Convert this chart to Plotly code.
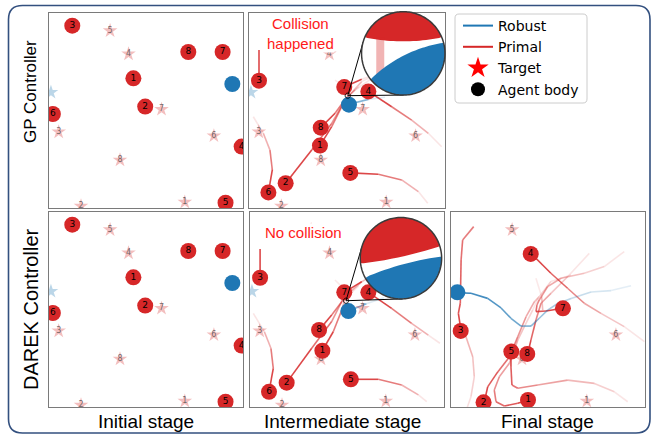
import numpy as np
import plotly.graph_objects as go

W, H = 656, 434
RED = (214, 39, 40)
BLUE = (31, 119, 180)

# ---------------- data (panel coordinates 0..1) ----------------
agent_ids = ["1", "2", "3", "4", "5", "6", "7", "8"]

target_x = [0.70, 0.165, 0.05, 0.41, 0.315, 0.85, 0.58, 0.366]
target_y = [0.03, 0.01, 0.39, 0.79, 0.909, 0.37, 0.506, 0.246]
robust_target_x = [0.01]
robust_target_y = [0.593]

init_agent_x = [0.435, 0.496, 0.12, 0.993, 0.91, 0.02, 0.895, 0.718]
init_agent_y = [0.665, 0.52, 0.935, 0.315, 0.027, 0.482, 0.80, 0.80]
init_robust_x = [0.945]
init_robust_y = [0.636]

gp_mid_agent_x = [0.362, 0.187, 0.051, 0.609, 0.517, 0.099, 0.486, 0.366]
gp_mid_agent_y = [0.32, 0.127, 0.653, 0.598, 0.18, 0.08, 0.62, 0.412]
gp_mid_robust_x = [0.51]
gp_mid_robust_y = [0.53]

dk_mid_agent_x = [0.373, 0.189, 0.052, 0.61, 0.52, 0.098, 0.486, 0.356]
dk_mid_agent_y = [0.289, 0.125, 0.663, 0.588, 0.142, 0.078, 0.588, 0.395]
dk_mid_robust_x = [0.507]
dk_mid_robust_y = [0.492]

dk_final_agent_x = [0.397, 0.168, 0.05, 0.411, 0.311, None, 0.577, 0.393]
dk_final_agent_y = [0.036, 0.024, 0.39, 0.785, 0.284, None, 0.506, 0.272]
dk_final_robust_x = [0.033]
dk_final_robust_y = [0.588]

# trails: newest point first (at the agent), oldest last
gp_mid_trails = {
    "r3": ([0.051, 0.051], [0.653, 0.81]),
    "r6": ([0.099, 0.119, 0.107, 0.073, 0.022], [0.08, 0.195, 0.297, 0.383, 0.468]),
    "r2": ([0.187, 0.32, 0.422, 0.49, 0.575, 0.64], [0.127, 0.297, 0.434, 0.554, 0.648, 0.68]),
    "r1": ([0.362, 0.422, 0.473, 0.498, 0.56], [0.32, 0.417, 0.52, 0.571, 0.62]),
    "r8": ([0.366, 0.439, 0.49, 0.541, 0.62], [0.412, 0.486, 0.557, 0.605, 0.66]),
    "r7": ([0.486, 0.575, 0.66], [0.62, 0.66, 0.69]),
    "r7b": ([0.486, 0.473, 0.439], [0.62, 0.631, 0.656]),
    "r4": ([0.609, 0.728, 0.83, 0.915, 0.983], [0.598, 0.519, 0.451, 0.383, 0.314]),
    "r5": ([0.517, 0.66, 0.779, 0.864, 0.912], [0.18, 0.173, 0.144, 0.084, 0.024]),
    "b": ([0.51, 0.609, 0.694], [0.532, 0.557, 0.568]),
}
dk_mid_trails = {
    "r3": ([0.052, 0.052], [0.663, 0.81]),
    "r6": ([0.098, 0.12, 0.108, 0.074, 0.017], [0.078, 0.198, 0.301, 0.386, 0.48]),
    "r2": ([0.189, 0.318, 0.421, 0.481, 0.576, 0.64], [0.125, 0.301, 0.438, 0.557, 0.643, 0.68]),
    "r1": ([0.373, 0.429, 0.473, 0.49, 0.56], [0.289, 0.386, 0.497, 0.557, 0.62]),
    "r8": ([0.356, 0.421, 0.473, 0.524, 0.6], [0.395, 0.472, 0.54, 0.6, 0.66]),
    "r7": ([0.486, 0.576, 0.66], [0.588, 0.643, 0.68]),
    "r7b": ([0.486, 0.473, 0.438], [0.588, 0.617, 0.651]),
    "r4": ([0.61, 0.73, 0.833, 0.919, 0.979], [0.588, 0.506, 0.429, 0.369, 0.327]),
    "r5": ([0.52, 0.661, 0.782, 0.868, 0.911], [0.142, 0.142, 0.113, 0.062, 0.027]),
    "b": ([0.507, 0.6, 0.69], [0.492, 0.53, 0.56]),
}
dk_final_trails = {
    "r6b": ([0.077, 0.112, 0.12, 0.103, 0.082], [0.36, 0.258, 0.155, 0.053, -0.007]),
    "r3": ([0.052, 0.038, 0.048, 0.052, 0.06, 0.117], [0.39, 0.48, 0.532, 0.754, 0.856, 0.925]),
    "r7": ([0.576, 0.49, 0.438, 0.443, 0.455, 0.498, 0.567, 0.687, 0.79, 0.893],
           [0.506, 0.492, 0.489, 0.523, 0.549, 0.617, 0.66, 0.686, 0.72, 0.797]),
    "r8": ([0.395, 0.412, 0.438, 0.464, 0.515, 0.601, 0.713], [0.272, 0.343, 0.446, 0.532, 0.583, 0.668, 0.788]),
    "r5": ([0.309, 0.309, 0.314, 0.344, 0.447, 0.601, 0.739, 0.842, 0.911],
           [0.28, 0.207, 0.113, 0.096, 0.113, 0.138, 0.121, 0.078, 0.027]),
    "r1": ([0.399, 0.344, 0.275, 0.232, 0.223, 0.249, 0.301, 0.344, 0.378, 0.421, 0.45],
           [0.036, 0.019, 0.005, 0.027, 0.087, 0.155, 0.224, 0.343, 0.412, 0.497, 0.56]),
    "r2": ([0.172, 0.189, 0.241, 0.301, 0.344, 0.387, 0.43, 0.455, 0.515, 0.619],
           [0.027, 0.103, 0.18, 0.257, 0.36, 0.463, 0.54, 0.566, 0.643, 0.677]),
    "r4": ([0.412, 0.515, 0.601, 0.687, 0.773, 0.893, 0.997], [0.788, 0.686, 0.609, 0.532, 0.48, 0.412, 0.335]),
    "r6c": ([0.473, 0.467, 0.438], [0.497, 0.566, 0.66]),
    "b": ([0.031, 0.103, 0.189, 0.258, 0.309, 0.361, 0.412, 0.455, 0.498, 0.55, 0.619, 0.722, 0.825, 0.928],
          [0.586, 0.583, 0.557, 0.508, 0.455, 0.415, 0.415, 0.455, 0.497, 0.531, 0.556, 0.59, 0.597, 0.622]),
}

row_labels = ["GP Controller", "DAREK Controller"]
col_labels = ["Initial stage", "Intermediate stage", "Final stage"]
legend_names = ["Robust", "Primal", "Target", "Agent body"]

# ---------------- styling / layout ----------------
# axis suffix -> pixel box (left, right, top, bottom)
PANELS = {
    "": (49, 243, 13, 208),
    "2": (249, 445, 13, 208),
    "3": (49, 243, 212, 407),
    "4": (250, 444, 212, 407),
    "5": (451, 645, 212, 407),
}
trail_alpha = {"default": (0.85, 0.12), "r3": (0.85, 0.6), "r7b": (0.35, 0.1),
               "r6b": (0.35, 0.15), "r6c": (0.3, 0.1), "b": (0.9, 0.12)}
mid_blue_alpha = (0.55, 0.15)


def rgba(c, a):
    return f"rgba({c[0]},{c[1]},{c[2]},{a:.3f})"


fig = go.Figure()


def add_trails(k, trails, blue_alpha=None):
    for name, (xs, ys) in trails.items():
        col = BLUE if name == "b" else RED
        a0, a1 = trail_alpha.get(name, trail_alpha["default"])
        if name == "b" and blue_alpha:
            a0, a1 = blue_alpha
        n = len(xs)
        for i in range(n - 1):
            t = i / (n - 2) if n > 2 else 0.0
            a = a0 + (a1 - a0) * t
            fig.add_trace(go.Scatter(x=xs[i:i + 2], y=ys[i:i + 2], mode="lines",
                                     line=dict(color=rgba(col, a), width=1.6),
                                     xaxis="x" + k, yaxis="y" + k,
                                     hoverinfo="skip", showlegend=False))


def add_targets(k):
    fig.add_trace(go.Scatter(x=robust_target_x, y=robust_target_y, mode="markers",
                             marker=dict(symbol="star", size=11, color=rgba(BLUE, 0.3), line=dict(width=0)),
                             xaxis="x" + k, yaxis="y" + k, hoverinfo="skip", showlegend=False))
    fig.add_trace(go.Scatter(x=target_x, y=target_y, mode="markers+text", text=agent_ids,
                             textposition="middle center",
                             textfont=dict(family="DejaVu Sans", size=8, color="rgba(70,70,70,0.75)"),
                             marker=dict(symbol="star", size=11, color=rgba(RED, 0.3), line=dict(width=0)),
                             xaxis="x" + k, yaxis="y" + k, hoverinfo="skip", showlegend=False))


def add_agents(k, ax_, ay_, rx, ry):
    fig.add_trace(go.Scatter(x=ax_, y=ay_, mode="markers+text", text=agent_ids,
                             textposition="middle center",
                             textfont=dict(family="DejaVu Sans", size=9, color="black"),
                             marker=dict(size=16, color=rgba(RED, 1), line=dict(width=0)),
                             xaxis="x" + k, yaxis="y" + k, hoverinfo="skip", showlegend=False))
    fig.add_trace(go.Scatter(x=rx, y=ry, mode="markers",
                             marker=dict(size=16, color=rgba(BLUE, 1), line=dict(width=0)),
                             xaxis="x" + k, yaxis="y" + k, hoverinfo="skip", showlegend=False))


# initial panels
for k in ["", "3"]:
    add_targets(k)
    add_agents(k, init_agent_x, init_agent_y, init_robust_x, init_robust_y)
# GP intermediate
add_trails("2", gp_mid_trails, mid_blue_alpha)
add_targets("2")
add_agents("2", gp_mid_agent_x, gp_mid_agent_y, gp_mid_robust_x, gp_mid_robust_y)
# DAREK intermediate
add_trails("4", dk_mid_trails, mid_blue_alpha)
add_targets("4")
add_agents("4", dk_mid_agent_x, dk_mid_agent_y, dk_mid_robust_x, dk_mid_robust_y)
# DAREK final
add_trails("5", dk_final_trails)
add_targets("5")
add_agents("5", dk_final_agent_x, dk_final_agent_y, dk_final_robust_x, dk_final_robust_y)

# legend-only traces
fig.add_trace(go.Scatter(x=[None], y=[None], mode="lines", name=legend_names[0],
                         line=dict(color=rgba(BLUE, 1), width=2)))
fig.add_trace(go.Scatter(x=[None], y=[None], mode="lines", name=legend_names[1],
                         line=dict(color=rgba(RED, 1), width=2)))
fig.add_trace(go.Scatter(x=[None], y=[None], mode="markers", name=legend_names[2],
                         marker=dict(symbol="star", size=16, color="#ff0000")))
fig.add_trace(go.Scatter(x=[None], y=[None], mode="markers", name=legend_names[3],
                         marker=dict(symbol="circle", size=14, color="black")))

# axes
layout_axes = {}
for k, (l, r, t, b) in PANELS.items():
    common = dict(range=[0, 1], showticklabels=False, ticks="", showgrid=False, zeroline=False,
                  showline=True, linecolor="#7a7a7a", linewidth=1, mirror=True, fixedrange=True)
    layout_axes["xaxis" + k] = dict(domain=[l / W, r / W], anchor="y" + k, **common)
    layout_axes["yaxis" + k] = dict(domain=[1 - b / H, 1 - t / H], anchor="x" + k, **common)


# ---------------- decorations (pixel geometry -> paper) ----------------
def P(px, py):
    return px / W, 1 - py / H


def panel_px(k, x, y):
    l, r, t, b = PANELS[k]
    return l + x * (r - l), b - y * (b - t)


def path(pts):
    s = "M " + " L ".join(f"{P(x, y)[0]:.5f},{P(x, y)[1]:.5f}" for x, y in pts) + " Z"
    return s


def rounded_rect(x0, y0, x1, y1, r):
    def p(x, y):
        a, b = P(x, y)
        return f"{a:.5f},{b:.5f}"
    return (f"M {p(x0 + r, y0)} L {p(x1 - r, y0)} Q {p(x1, y0)} {p(x1, y0 + r)} "
            f"L {p(x1, y1 - r)} Q {p(x1, y1)} {p(x1 - r, y1)} L {p(x0 + r, y1)} "
            f"Q {p(x0, y1)} {p(x0, y1 - r)} L {p(x0, y0 + r)} Q {p(x0, y0)} {p(x0 + r, y0)} Z")


def circle_pts(cx, cy, r, n=180):
    a = np.linspace(0, 2 * np.pi, n, endpoint=False)
    return list(zip(cx + r * np.cos(a), cy + r * np.sin(a)))


def disc_intersection(c1, r1, c2, r2, n=360):
    pts = []
    for (cx, cy, r, ox, oy, orr) in [(c1[0], c1[1], r1, c2[0], c2[1], r2), (c2[0], c2[1], r2, c1[0], c1[1], r1)]:
        for x, y in circle_pts(cx, cy, r, n):
            if (x - ox) ** 2 + (y - oy) ** 2 <= orr ** 2:
                pts.append((x, y))
    if not pts:
        return []
    mx = np.mean([p[0] for p in pts]); my = np.mean([p[1] for p in pts])
    pts.sort(key=lambda p: np.arctan2(p[1] - my, p[0] - mx))
    return pts


shapes = []
insets = [
    # panel, lens(panel coords), inset centre(panel coords), R px, red disc(rel), blue disc(rel), stripe
    ("2", (0.504, 0.576), (0.787, 0.793), 41.7, ((0, -200), 188), ((60, 120), 132), True),
    ("4", (0.495, 0.545), (0.778, 0.763), 40.7, ((-86, -392), 400), ((81, 295.5), 300), False),
]
for k, lens, cen, R, red_d, blue_d, stripe in insets:
    lx, ly = panel_px(k, *lens)
    cx, cy = panel_px(k, *cen)
    # tangent lines
    dx, dy = lx - cx, ly - cy
    d = np.hypot(dx, dy)
    base = np.arctan2(dy, dx)
    al = np.arccos(R / d)
    for s in (1, -1):
        tx, ty = cx + R * np.cos(base + s * al), cy + R * np.sin(base + s * al)
        a0 = P(lx, ly); a1 = P(tx, ty)
        shapes.append(dict(type="line", xref="paper", yref="paper", x0=a0[0], y0=a0[1], x1=a1[0], y1=a1[1],
                           line=dict(color="black", width=1)))
    shapes.append(dict(type="path", xref="paper", yref="paper", path=path(circle_pts(cx, cy, R)),
                       fillcolor="white", line=dict(width=0)))
    red_poly = disc_intersection((cx, cy), R, (cx + red_d[0][0], cy + red_d[0][1]), red_d[1])
    shapes.append(dict(type="path", xref="paper", yref="paper", path=path(red_poly),
                       fillcolor=rgba(RED, 1), line=dict(width=0)))
    if stripe:
        st = [(cx - 27, cy - 16), (cx - 19, cy - 16), (cx - 19, cy + 28), (cx - 27, cy + 28)]
        shapes.append(dict(type="path", xref="paper", yref="paper", path=path(st),
                           fillcolor=rgba(RED, 0.35), line=dict(width=0)))
    blue_poly = disc_intersection((cx, cy), R, (cx + blue_d[0][0], cy + blue_d[0][1]), blue_d[1])
    shapes.append(dict(type="path", xref="paper", yref="paper", path=path(blue_poly),
                       fillcolor=rgba(BLUE, 1), line=dict(width=0)))
    shapes.append(dict(type="path", xref="paper", yref="paper", path=path(circle_pts(cx, cy, R)),
                       fillcolor="rgba(0,0,0,0)", line=dict(color="#3a3a3a", width=1.5)))
    shapes.append(dict(type="path", xref="paper", yref="paper", path=path(circle_pts(lx, ly, 2.6, 40)),
                       fillcolor="rgba(0,0,0,0)", line=dict(color="black", width=1)))

# legend frame
shapes.append(dict(type="path", xref="paper", yref="paper", path=rounded_rect(455, 14, 587, 103, 4),
                   fillcolor="white", line=dict(color="#cccccc", width=1)))
# outer frame
shapes.append(dict(type="path", xref="paper", yref="paper", path=rounded_rect(8.5, 5.5, 650, 433, 14),
                   fillcolor="rgba(0,0,0,0)", line=dict(color="#33507f", width=1.6)))

annotations = []
FONT = "Liberation Sans, Arial, sans-serif"
for txt, (px_, py_) in [("Collision<br>happened", (300, 33)), ("No collision", (303, 232.5))]:
    x, y = P(px_, py_)
    annotations.append(dict(text=txt, x=x, y=y, xref="paper", yref="paper", showarrow=False,
                            font=dict(family=FONT, size=15, color="#ff1a1a"), bgcolor="white",
                            xanchor="center", yanchor="middle", borderpad=0))
for txt, px_ in zip(col_labels, [146, 342, 547]):
    x, y = P(px_, 421)
    annotations.append(dict(text=txt, x=x, y=y, xref="paper", yref="paper", showarrow=False,
                            font=dict(family=FONT, size=19, color="black"),
                            xanchor="center", yanchor="middle"))
for txt, py_, fs in zip(row_labels, [92, 309], [17, 20]):
    x, y = P(31, py_)
    annotations.append(dict(text=txt, x=x, y=y, xref="paper", yref="paper", showarrow=False,
                            font=dict(family=FONT, size=fs, color="black"), textangle=-90,
                            xanchor="center", yanchor="middle"))

fig.update_layout(
    width=W, height=H, margin=dict(l=0, r=0, t=0, b=0, pad=0),
    paper_bgcolor="white", plot_bgcolor="white",
    showlegend=True,
    legend=dict(x=458 / W, y=1 - 10 / H, xanchor="left", yanchor="top",
                bgcolor="rgba(0,0,0,0)", borderwidth=0,
                font=dict(family="DejaVu Sans", size=14, color="black"),
                itemwidth=30, tracegroupgap=0),
    shapes=shapes, annotations=annotations,
    **layout_axes,
)

fig.write_html("out.html", config={"displayModeBar": False},
               post_script="document.body.style.margin='0';document.body.style.overflow='hidden';")
